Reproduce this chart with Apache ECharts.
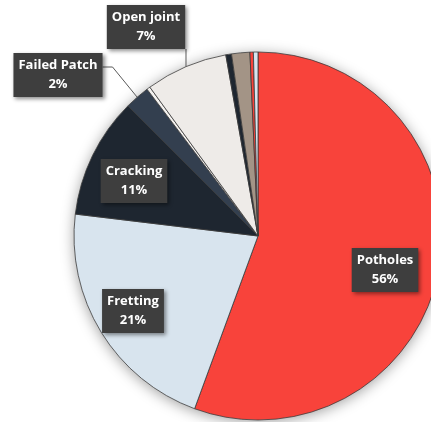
<!DOCTYPE html>
<html>
<head>
<meta charset="utf-8">
<script src="https://cdn.jsdelivr.net/npm/echarts@6/dist/echarts.min.js"></script>
<style>
  html, body { margin: 0; padding: 0; background: #ffffff; }
  #chart { width: 431px; height: 422px; }
</style>
</head>
<body>
<div id="chart"></div>
<script>
// Share of road defects (% of recorded defects), clockwise from 12 o'clock
const categories = ['Potholes', 'Fretting', 'Cracking', 'Failed Patch', 'Edge Break',
                    'Open joint', 'Rutting', 'Shoving', 'Bleeding', 'Ravelling'];
const shares = [55.6, 21.3, 10.6, 2.2, 0.3, 7.2, 0.5, 1.6, 0.3, 0.4];
const labelledCategories = ['Potholes', 'Fretting', 'Cracking', 'Failed Patch', 'Open joint'];
const calloutCategories = ['Failed Patch', 'Open joint'];

const sliceColors = ['#F8433B', '#D8E4EE', '#1E2630', '#333F4F', '#F4F2F0',
                     '#EEEBE8', '#1E2630', '#A39486', '#F8433B', '#D8E4EE'];

// Label box centres (px) and callout elbows
const labelCentres = {
  'Potholes':     [385, 270],
  'Fretting':     [133, 311],
  'Cracking':     [134, 181],
  'Failed Patch': [58, 75],
  'Open joint':   [146, 27]
};

const CENTER = [258, 236];
const RADIUS = 184;

const chart = echarts.init(document.getElementById('chart'), null, { renderer: 'canvas' });

const pieData = categories.map((name, i) => {
  const labelled = labelledCategories.includes(name);
  const callout = calloutCategories.includes(name);
  return {
    name: name,
    value: shares[i],
    itemStyle: { color: sliceColors[i] },
    label: { show: labelled, position: callout ? 'outside' : 'inside' },
    labelLine: { show: callout }
  };
});

chart.setOption({
  animation: false,
  backgroundColor: '#ffffff',
  series: [
    {
      // soft drop shadow under the pie
      type: 'pie',
      silent: true,
      z: 1,
      center: CENTER,
      radius: RADIUS,
      label: { show: false },
      labelLine: { show: false },
      itemStyle: {
        color: '#ffffff',
        shadowBlur: 14,
        shadowColor: 'rgba(0,0,0,0.38)',
        shadowOffsetY: 2
      },
      data: [{ value: 1, name: '' }]
    },
    {
      type: 'pie',
      z: 2,
      center: CENTER,
      radius: RADIUS,
      startAngle: 90,
      clockwise: true,
      avoidLabelOverlap: false,
      emphasis: { disabled: true },
      itemStyle: { borderColor: '#3a3a3a', borderWidth: 0.8 },
      label: {
        formatter: p => p.name + '\n' + Math.round(p.value) + '%',
        color: '#ffffff',
        fontFamily: 'Open Sans',
        fontWeight: 'bold',
        fontSize: 13,
        lineHeight: 19,
        align: 'center',
        backgroundColor: '#3E3E3E',
        padding: [3, 5, 3, 5],
        shadowColor: 'rgba(0,0,0,0.45)',
        shadowBlur: 4,
        shadowOffsetX: 2,
        shadowOffsetY: 2
      },
      labelLine: {
        lineStyle: { color: '#5a5a5a', width: 1 },
        length: 10,
        length2: 10
      },
      labelLayout: function (p) {
        const name = categories[p.dataIndex];
        const pos = labelCentres[name];
        if (!pos) return {};
        const out = { x: pos[0], y: pos[1], align: 'center', verticalAlign: 'middle' };
        if (p.labelLinePoints && calloutCategories.includes(name)) {
          const s = p.labelLinePoints[0];
          const w = p.labelRect.width, h = p.labelRect.height;
          if (name === 'Open joint') {
            const bottom = pos[1] + h / 2;
            out.labelLinePoints = [[s[0], s[1]], [s[0], bottom], [s[0], bottom]];
          } else {
            const right = pos[0] + w / 2;
            const yA = pos[1] - 8;
            out.labelLinePoints = [[s[0], s[1]], [right + 10, yA], [right, yA]];
          }
        }
        return out;
      },
      data: pieData
    }
  ]
});
</script>
</body>
</html>
